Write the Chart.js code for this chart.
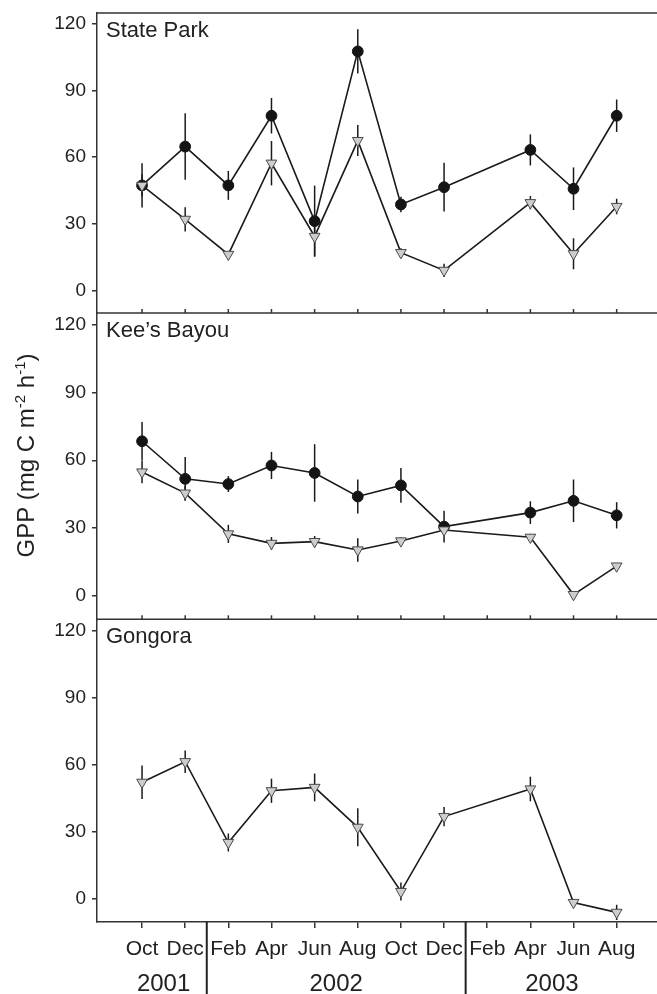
<!DOCTYPE html>
<html>
<head>
<meta charset="utf-8">
<script src="https://cdn.jsdelivr.net/npm/chart.js@4.4.0/dist/chart.umd.min.js"></script>
<style>
  html, body { margin:0; padding:0; background:#fff; }
  #wrap { width:657px; height:994px; }
</style>
</head>
<body>
<div id="wrap"><canvas id="gpp" width="657" height="994"></canvas></div>
<script>
// categories (sampling months, Oct 2001 .. Aug 2003)
const months = ['Oct','Dec','Feb','Apr','Jun','Aug','Oct','Dec','Feb','Apr','Jun','Aug'];
const yearLabels = ['2001','2002','2003'];
const yearCenters = [0.5, 4.5, 9.5];
const yearBreaks = [1.5, 7.5];
const yTicks = [0, 30, 60, 90, 120];
const panelTitles = ['State Park', "Kee\u2019s Bayou", 'Gongora'];

// State Park
const spCircle    = [47.3, 64.8, 47.3, 78.7, 31.2, 107.7, 38.7, 46.5, null, 63.3, 45.8, 78.7];
const spCircleErr = [10, 15, 6.5, 8, 16, 10, 3.5, 11, null, 7, 9.6, 7.3];
const spTri       = [47.3, 32, 16.2, 57.3, 24.3, 67.5, 17, 9, null, 39.5, 16.5, 37.8];
const spTriErr    = [5, 5.5, 1, 10, 9, 7, 2, 3, null, 3, 7, 3.5];
// Kee's Bayou
const kbCircle    = [68.4, 51.8, 49.5, 57.7, 54.4, 44, 48.9, 30.7, null, 36.9, 42.1, 35.7];
const kbCircleErr = [8.5, 9.6, 3.5, 6, 12.7, 7.5, 7.7, 7, null, 5, 9.4, 5.8];
const kbTri       = [54.8, 45.5, 27.5, 23.3, 24.1, 20.4, 24.4, 29.2, null, 26, 0.7, 13.3];
const kbTriErr    = [5, 3.3, 4, 2.8, 2.5, 5.2, 1.5, 2, null, 1.5, 0.5, 0.8];
// Gongora
const goTri       = [52.2, 61.4, 25.3, 48.4, 49.9, 32.1, 3.4, 36.9, null, 49.2, -1.5, -5.9];
const goTriErr    = [7.5, 5, 4, 5.4, 6.2, 8.5, 4, 4.3, null, 5.5, 1, 3.4];

const FONT = "'Liberation Sans', Arial, Helvetica, sans-serif";
const INK = '#222';

function pts(vals, errs){
  return vals.map((v,i) => ({x:i, y:v, err:errs[i]})).filter(p => p.y !== null);
}
function circleSet(vals, errs, axis){
  return { data: pts(vals, errs), yAxisID: axis, order: 1,
    borderColor:'#1a1a1a', borderWidth:1.6, tension:0, fill:false,
    pointStyle:'circle', pointRadius:5.4, pointBackgroundColor:'#141414',
    pointBorderColor:'#141414', pointBorderWidth:1 };
}
function triSet(vals, errs, axis){
  return { data: pts(vals, errs), yAxisID: axis, order: 0,
    borderColor:'#1a1a1a', borderWidth:1.6, tension:0, fill:false,
    pointStyle:'triangle', pointRotation:180, pointRadius:6.2,
    pointBackgroundColor:'#cdcdcd', pointBorderColor:'#4a4a4a', pointBorderWidth:1 };
}

const yBase = {
  type:'linear', position:'left', stack:'panels', min:-10.2, max:125,
  afterBuildTicks: s => { s.ticks = yTicks.map(v => ({value:v})); },
  ticks:{ font:{family:FONT, size:19}, color:INK, padding:6 },
  grid:{ drawOnChartArea:false, drawTicks:true, tickLength:5, color:'#333', lineWidth:1.5 },
  border:{ display:true, color:'#333', width:1.5 },
  afterFit: s => { s.width = 97; s.paddingTop = 0; s.paddingBottom = 0; }
};

const decor = {
  id:'decor',
  beforeDatasetsDraw(chart){
    const ctx = chart.ctx;
    ctx.save();
    ctx.strokeStyle = '#1a1a1a';
    ctx.lineWidth = 1.5;
    chart.data.datasets.forEach((ds, di) => {
      const meta = chart.getDatasetMeta(di);
      const ys = chart.scales[ds.yAxisID];
      meta.data.forEach((pt, i) => {
        const d = ds.data[i];
        if (!d.err) return;
        ctx.beginPath();
        ctx.moveTo(pt.x, ys.getPixelForValue(d.y - d.err));
        ctx.lineTo(pt.x, ys.getPixelForValue(d.y + d.err));
        ctx.stroke();
      });
    });
    ctx.restore();
  },
  afterDraw(chart){
    const ctx = chart.ctx, xs = chart.scales.x, area = chart.chartArea;
    const panels = [chart.scales.ySP, chart.scales.yKB, chart.scales.yGO];
    ctx.save();
    ctx.strokeStyle = '#333';
    ctx.lineWidth = 1.5;
    // panel top borders, with up ticks on inner boundaries
    panels.forEach((p, k) => {
      ctx.beginPath();
      ctx.moveTo(area.left, p.top);
      ctx.lineTo(chart.width, p.top);
      ctx.stroke();
      if (k > 0) {
        months.forEach((m, i) => {
          const x = xs.getPixelForValue(i);
          ctx.beginPath();
          ctx.moveTo(x, p.top);
          ctx.lineTo(x, p.top - 4);
          ctx.stroke();
        });
      }
      ctx.fillStyle = INK;
      ctx.font = '22px ' + FONT;
      ctx.textAlign = 'left';
      ctx.textBaseline = 'alphabetic';
      ctx.fillText(panelTitles[k], area.left + 9, p.top + 23.5);
    });
    // year separators
    ctx.strokeStyle = '#222';
    ctx.lineWidth = 2;
    yearBreaks.forEach(v => {
      const x = xs.getPixelForValue(v);
      ctx.beginPath();
      ctx.moveTo(x, area.bottom);
      ctx.lineTo(x, chart.height);
      ctx.stroke();
    });
    // year labels
    ctx.font = '24px ' + FONT;
    ctx.textAlign = 'center';
    yearLabels.forEach((t, i) => ctx.fillText(t, xs.getPixelForValue(yearCenters[i]), 991));
    // y title with superscripts
    const parts = [['GPP (mg C m', 24, 0], ['-2', 15, -9], [' h', 24, 0], ['-1', 15, -9], [')', 24, 0]];
    let total = 0;
    parts.forEach(p => { ctx.font = p[1] + 'px ' + FONT; total += ctx.measureText(p[0]).width; });
    const yc = (panels[0].top + panels[2].bottom) / 2 - 12;
    ctx.translate(25, yc);
    ctx.rotate(-Math.PI / 2);
    ctx.textAlign = 'left';
    let cx = -total / 2;
    parts.forEach(p => {
      ctx.font = p[1] + 'px ' + FONT;
      ctx.fillText(p[0], cx, 8.5 + p[2]);
      cx += ctx.measureText(p[0]).width;
    });
    ctx.restore();
  }
};

new Chart(document.getElementById('gpp'), {
  type:'line',
  data:{
    datasets:[
      circleSet(spCircle, spCircleErr, 'ySP'),
      triSet(spTri, spTriErr, 'ySP'),
      circleSet(kbCircle, kbCircleErr, 'yKB'),
      triSet(kbTri, kbTriErr, 'yKB'),
      triSet(goTri, goTriErr, 'yGO')
    ]
  },
  options:{
    responsive:false, animation:false,
    layout:{ autoPadding:false, padding:{ top:13, left:0, right:0, bottom:0 } },
    plugins:{ legend:{display:false}, tooltip:{enabled:false} },
    scales:{
      x:{
        type:'linear', min:-1.044, max:11.935,
        afterBuildTicks: s => { s.ticks = months.map((m, i) => ({value:i})); },
        ticks:{ callback: v => months[v], font:{family:FONT, size:21}, color:INK, padding:9, maxRotation:0, autoSkip:false },
        grid:{ drawOnChartArea:false, drawTicks:true, tickLength:6, color:'#333', lineWidth:1.5 },
        border:{ display:true, color:'#333', width:1.5 },
        afterFit: s => { s.height = 72; s.paddingLeft = 0; s.paddingRight = 0; }
      },
      ySP:Object.assign({}, yBase, { stackWeight:300, weight:3 }),
      yKB:Object.assign({}, yBase, { stackWeight:306.3, weight:2 }),
      yGO:Object.assign({}, yBase, { stackWeight:302.7, weight:1 })
    }
  },
  plugins:[decor]
});
</script>
</body>
</html>
